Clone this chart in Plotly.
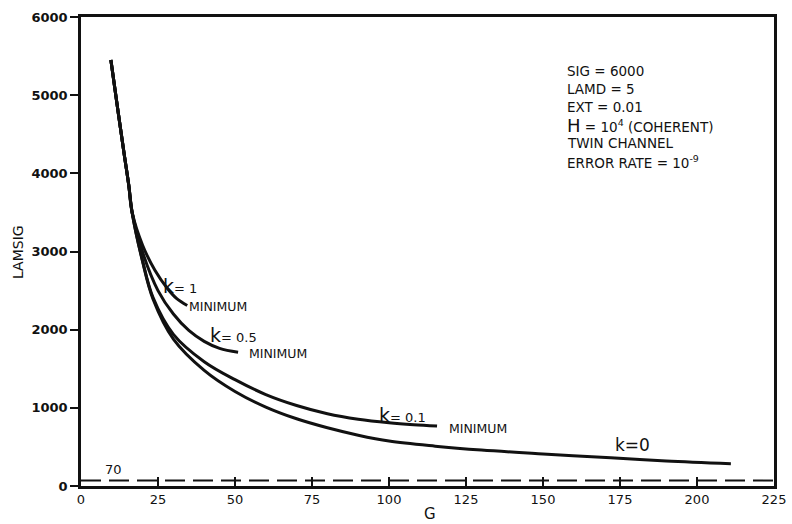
import plotly.graph_objects as go

# Common steep branch shared by all curves (G, LAMSIG)
trunk_g = [9.7, 12, 14, 15.5, 16.6]
trunk_l = [5450, 4800, 4250, 3850, 3500]

# Branches after the split, one per k value
k1_g = [20, 24, 28, 31, 34.5]
k1_l = [3080, 2760, 2530, 2400, 2310]

k05_g = [20, 25, 30, 35, 40, 45, 51]
k05_l = [2990, 2500, 2200, 1990, 1850, 1760, 1710]

k01_g = [20, 23.4, 30, 40, 50, 60, 70, 80, 90, 100, 108, 115.6]
k01_l = [2880, 2410, 1940, 1590, 1360, 1170, 1030, 925, 855, 810, 785, 768]

k0_g = [20, 23.4, 30, 40, 50, 60, 70, 80, 90, 100, 115, 130, 150, 172, 190, 211]
k0_l = [2870, 2390, 1880, 1480, 1210, 1010, 860, 745, 650, 575, 510, 460, 410, 360, 320, 285]

# Horizontal reference level
ref_g = [0, 225]
ref_l = [70, 70]

x_ticks = [0, 25, 50, 75, 100, 125, 150, 175, 200, 225]
y_ticks = [0, 1000, 2000, 3000, 4000, 5000, 6000]

# Parameter block lines
info_lines = [
    "SIG = 6000",
    "LAMD = 5",
    "EXT = 0.01",
    "<span style='font-size:18px'>H</span> = 10<sup>4</sup> (COHERENT)",
    "TWIN CHANNEL",
    "ERROR RATE = 10<sup>-9</sup>",
]

FONT = "DejaVu Sans"
INK = "#111111"

# Plot area in pixels: x 81..774, y 17..486
L, R, T, B = 81, 774, 17, 486
W, H = R - L, B - T

def px_to_paper(px, py):
    return (px - L) / W, (B - py) / H

fig = go.Figure()

for g, l in [(k0_g, k0_l), (k01_g, k01_l), (k05_g, k05_l), (k1_g, k1_l)]:
    fig.add_trace(go.Scatter(
        x=trunk_g + g, y=trunk_l + l, mode="lines",
        line=dict(color=INK, width=3, shape="spline", smoothing=1.0),
        showlegend=False, hoverinfo="skip",
    ))

fig.add_trace(go.Scatter(
    x=ref_g, y=ref_l, mode="lines",
    line=dict(color=INK, width=2, dash="20px,8px"),
    showlegend=False, hoverinfo="skip",
))

def label(x, y, text, size=16):
    fig.add_annotation(x=x, y=y, text=text, showarrow=False,
                       font=dict(family=FONT, size=size, color=INK),
                       xanchor="center", yanchor="middle")

small = "<span style='font-size:13px'>%s</span>"
label(32, 2560, "k" + small % "= 1", 19)
label(44.5, 2300, "MINIMUM", 12.5)
label(49.4, 1930, "k" + small % "= 0.5", 19)
label(64, 1700, "MINIMUM", 12.5)
label(104.5, 905, "k" + small % "= 0.1", 19)
label(129, 742, "MINIMUM", 12.5)
label(179, 530, "k=0", 17)
label(10.4, 217, "70", 13)

rows_px = [71, 89, 107, 125, 143, 162]
for txt, py in zip(info_lines, rows_px):
    ax, ay = px_to_paper(565, py)
    fig.add_annotation(xref="paper", yref="paper", x=ax, y=ay,
                       text=txt, showarrow=False, align="left",
                       xanchor="left", yanchor="middle",
                       font=dict(family=FONT, size=13.5, color=INK))

# Axis titles
gx, gy = px_to_paper(430, 514)
fig.add_annotation(xref="paper", yref="paper", x=gx, y=gy, text="G",
                   showarrow=False, xanchor="center", yanchor="middle",
                   font=dict(family=FONT, size=15, color=INK))
lx, ly = px_to_paper(18, 252)
fig.add_annotation(xref="paper", yref="paper", x=lx, y=ly, text="LAMSIG",
                   textangle=-90, showarrow=False, xanchor="center", yanchor="middle",
                   font=dict(family=FONT, size=14, color=INK))

fig.update_layout(
    width=792, height=524,
    margin=dict(l=L, r=792 - R, t=T, b=524 - B),
    paper_bgcolor="white", plot_bgcolor="white",
    font=dict(family=FONT, color=INK),
)
fig.update_xaxes(
    range=[0, 225], tickvals=x_ticks, ticktext=[str(v) for v in x_ticks],
    showgrid=False, zeroline=False, showline=True, linecolor=INK, linewidth=2.5,
    mirror=True, ticks="inside", ticklen=9, tickwidth=2, tickcolor=INK,
    tickfont=dict(family=FONT, size=13, color=INK), automargin=False,
)
fig.update_yaxes(
    range=[0, 6000], tickvals=y_ticks, ticktext=[str(v) for v in y_ticks],
    showgrid=False, zeroline=False, showline=True, linecolor=INK, linewidth=2.5,
    mirror=True, ticks="outside", ticklen=8, tickwidth=2, tickcolor=INK,
    tickfont=dict(family=FONT, size=13, color=INK, weight="bold"), automargin=False,
)

fig.write_html("out.html")
